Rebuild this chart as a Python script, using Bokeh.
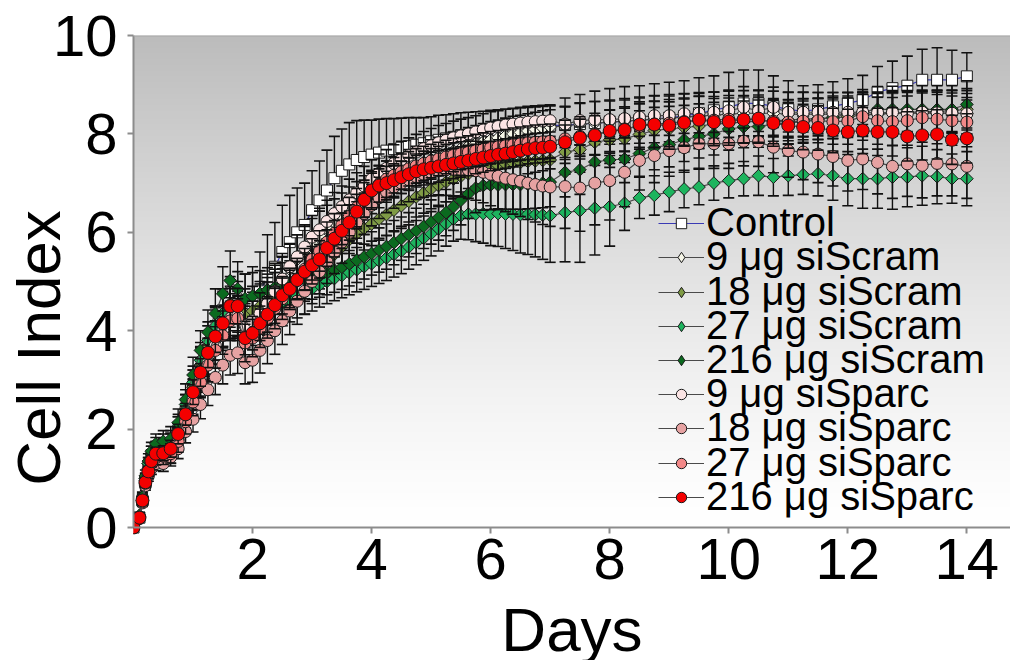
import numpy as np
from bokeh.plotting import figure
from bokeh.models import ColumnDataSource, Range1d, FixedTicker, Legend, LegendItem, Span
from bokeh.embed import file_html
from bokeh.resources import INLINE

# ---------------- data ----------------
days = [0, 0.1, 0.15, 0.2, 0.25, 0.3, 0.375,
        0.5, 0.625, 0.75, 0.875, 1.0, 1.125, 1.25, 1.375, 1.5, 1.625, 1.75, 1.875,
        2.0, 2.125, 2.25, 2.375, 2.5, 2.625, 2.75, 2.875,
        3.0, 3.125, 3.25, 3.375, 3.5, 3.625, 3.75, 3.875,
        4.0, 4.125, 4.25, 4.375, 4.5, 4.625, 4.75, 4.875,
        5.0, 5.125, 5.25, 5.375, 5.5, 5.625, 5.75, 5.875,
        6.0, 6.125, 6.25, 6.375, 6.5, 6.625, 6.75, 6.875, 7.0,
        7.25, 7.5, 7.75, 8.0, 8.25, 8.5, 8.75, 9.0, 9.25, 9.5, 9.75, 10.0,
        10.25, 10.5, 10.75, 11.0, 11.25, 11.5, 11.75, 12.0, 12.25, 12.5, 12.75, 13.0, 13.25, 13.5, 13.75, 14.0]

control = [0, 0.2, 0.55, 0.95, 1.2, 1.4, 1.55,
           1.55, 1.65, 1.95, 2.35, 2.8, 3.2, 3.6, 3.95, 4.25, 4.45, 4.5, 4.45,
           4.55, 4.8, 5.1, 5.3, 5.6, 5.8, 6.0, 6.15,
           6.45, 6.65, 6.85, 7.1, 7.25, 7.38, 7.47, 7.53,
           7.58, 7.62, 7.66, 7.69, 7.72, 7.75, 7.78, 7.81,
           7.85, 7.88, 7.91, 7.94, 7.97, 7.99, 8.01, 8.03,
           8.06, 8.08, 8.1, 8.11, 8.13, 8.14, 8.15, 8.16, 8.17,
           8.18, 8.2, 8.22, 8.24, 8.26, 8.28, 8.3, 8.33, 8.36, 8.42, 8.48, 8.55,
           8.62, 8.62, 8.56, 8.5, 8.46, 8.5, 8.56, 8.62, 8.69, 8.85, 8.93, 8.98, 9.1, 9.1, 9.1, 9.17]
control_err = [0, 0.05, 0.1, 0.12, 0.15, 0.18, 0.2,
               0.25, 0.25, 0.3, 0.35, 0.4, 0.45, 0.5, 0.55, 0.6, 0.65, 0.7, 0.7,
               0.75, 0.8, 0.85, 0.9, 0.95, 0.95, 0.9, 0.85,
               0.8, 0.8, 0.82, 0.85, 0.85, 0.85, 0.8, 0.75,
               0.7, 0.68, 0.65, 0.62, 0.6, 0.58, 0.55, 0.52,
               0.5, 0.5, 0.48, 0.47, 0.46, 0.45, 0.44, 0.43,
               0.42, 0.41, 0.4, 0.4, 0.4, 0.4, 0.4, 0.4, 0.4,
               0.55, 0.6, 0.65, 0.68, 0.7, 0.7, 0.72, 0.72, 0.72, 0.72, 0.7, 0.7,
               0.68, 0.68, 0.62, 0.58, 0.52, 0.5, 0.5, 0.5, 0.5, 0.52, 0.55, 0.6, 0.62, 0.65, 0.6, 0.48]

scram9 = [0, 0.2, 0.55, 0.95, 1.2, 1.4, 1.55,
          1.5, 1.6, 1.9, 2.3, 2.7, 3.1, 3.45, 3.8, 4.1, 4.3, 4.35, 4.2,
          4.3, 4.45, 4.65, 4.85, 5.05, 5.25, 5.45, 5.62,
          5.78, 5.93, 6.07, 6.2, 6.33, 6.46, 6.58, 6.7,
          6.82, 6.93, 7.03, 7.12, 7.2, 7.28, 7.35, 7.42,
          7.48, 7.54, 7.6, 7.65, 7.7, 7.75, 7.8, 7.84,
          7.88, 7.92, 7.96, 8.0, 8.03, 8.06, 8.09, 8.12, 8.14,
          8.16, 8.2, 8.22, 8.24, 8.26, 8.28, 8.3, 8.32, 8.34, 8.36, 8.38, 8.4,
          8.42, 8.42, 8.42, 8.4, 8.4, 8.4, 8.4, 8.4, 8.4, 8.4, 8.42, 8.42, 8.42, 8.42, 8.42, 8.42]
scram9_err = [0, 0.04, 0.08, 0.1, 0.12, 0.14, 0.15,
              0.18, 0.2, 0.24, 0.28, 0.32, 0.35, 0.38, 0.4, 0.42, 0.45, 0.45, 0.45,
              0.48, 0.5, 0.5, 0.52, 0.52, 0.52, 0.5, 0.5,
              0.5, 0.5, 0.48, 0.48, 0.47, 0.46, 0.45, 0.45,
              0.44, 0.43, 0.42, 0.42, 0.41, 0.4, 0.4, 0.4,
              0.4, 0.39, 0.39, 0.38, 0.38, 0.38, 0.37, 0.37,
              0.37, 0.36, 0.36, 0.36, 0.35, 0.35, 0.35, 0.35, 0.35,
              0.4, 0.42, 0.44, 0.45, 0.46, 0.47, 0.48, 0.48, 0.48, 0.48, 0.47, 0.47,
              0.46, 0.46, 0.45, 0.45, 0.45, 0.44, 0.44, 0.44, 0.45, 0.45, 0.46, 0.46, 0.47, 0.47, 0.46, 0.46]

scram18 = [0, 0.22, 0.6, 1.0, 1.3, 1.5, 1.65,
           1.6, 1.7, 2.0, 2.4, 2.85, 3.3, 3.7, 4.05, 4.35, 4.55, 4.5, 4.35,
           4.4, 4.5, 4.6, 4.7, 4.8, 4.9, 5.0, 5.1,
           5.2, 5.3, 5.42, 5.55, 5.7, 5.85, 5.97, 6.08,
           6.17, 6.27, 6.36, 6.45, 6.54, 6.63, 6.72, 6.8,
           6.88, 6.95, 7.02, 7.08, 7.14, 7.19, 7.24, 7.29,
           7.33, 7.36, 7.39, 7.41, 7.42, 7.44, 7.45, 7.46, 7.47,
           7.63, 7.68, 7.83, 7.88, 7.9, 7.99, 8.07, 8.1, 8.13, 8.16, 8.2, 8.22,
           8.24, 8.26, 8.27, 8.28, 8.3, 8.31, 8.32, 8.35, 8.38, 8.4, 8.42, 8.44, 8.45, 8.46, 8.47, 8.5]
scram18_err = [0, 0.05, 0.08, 0.1, 0.12, 0.15, 0.18,
               0.2, 0.22, 0.25, 0.3, 0.35, 0.38, 0.4, 0.42, 0.45, 0.48, 0.5, 0.5,
               0.5, 0.5, 0.48, 0.48, 0.46, 0.46, 0.45, 0.45,
               0.45, 0.45, 0.45, 0.45, 0.45, 0.44, 0.44, 0.44,
               0.44, 0.43, 0.43, 0.42, 0.42, 0.42, 0.41, 0.41,
               0.4, 0.4, 0.4, 0.4, 0.4, 0.4, 0.4, 0.4,
               0.4, 0.4, 0.4, 0.4, 0.4, 0.41, 0.42, 0.43, 0.44,
               0.45, 0.46, 0.47, 0.48, 0.48, 0.48, 0.47, 0.46, 0.45, 0.45, 0.44, 0.44,
               0.43, 0.43, 0.42, 0.42, 0.42, 0.42, 0.42, 0.42, 0.42, 0.42, 0.42, 0.42, 0.42, 0.42, 0.42, 0.42]

scram27 = [0, 0.22, 0.6, 1.0, 1.3, 1.5, 1.55,
           1.7, 1.75, 2.05, 2.5, 2.95, 3.4, 3.8, 4.1, 4.35, 4.45, 4.25, 4.1,
           4.15, 4.25, 4.35, 4.45, 4.55, 4.63, 4.71, 4.78,
           4.85, 4.93, 5.0, 5.06, 5.12, 5.18, 5.24, 5.3,
           5.36, 5.42, 5.48, 5.55, 5.62, 5.7, 5.79, 5.88,
           5.97, 6.07, 6.17, 6.27, 6.34, 6.37, 6.37, 6.38,
           6.37, 6.38, 6.37, 6.37, 6.36, 6.37, 6.36, 6.35, 6.34,
           6.4, 6.44, 6.49, 6.52, 6.59, 6.7, 6.75, 6.82, 6.88, 6.92, 7.0, 7.05,
           7.09, 7.15, 7.12, 7.15, 7.17, 7.19, 7.15, 7.09, 7.09, 7.09, 7.12, 7.12, 7.15, 7.13, 7.09, 7.09]
scram27_err = [0, 0.05, 0.08, 0.1, 0.12, 0.15, 0.18,
               0.2, 0.22, 0.25, 0.3, 0.33, 0.36, 0.38, 0.4, 0.42, 0.45, 0.45, 0.45,
               0.45, 0.45, 0.45, 0.45, 0.45, 0.45, 0.45, 0.45,
               0.45, 0.45, 0.45, 0.45, 0.45, 0.45, 0.45, 0.46,
               0.46, 0.46, 0.46, 0.46, 0.46, 0.45, 0.45, 0.45,
               0.45, 0.45, 0.45, 0.45, 0.48, 0.52, 0.56, 0.6,
               0.64, 0.67, 0.7, 0.74, 0.78, 0.82, 0.86, 0.9, 0.95,
               1.0, 1.05, 0.95, 0.8, 0.55, 0.42, 0.4, 0.4, 0.38, 0.36, 0.35, 0.35,
               0.35, 0.4, 0.38, 0.4, 0.4, 0.45, 0.5, 0.55, 0.6, 0.6, 0.65, 0.6, 0.6, 0.55, 0.5, 0.55]

scram216 = [0, 0.25, 0.62, 1.05, 1.35, 1.55, 1.7,
            1.75, 1.8, 2.13, 2.6, 3.1, 3.6, 3.97, 4.35, 4.75, 5.02, 4.85, 4.65,
            4.7, 4.76, 4.83, 4.88, 4.93, 4.97, 5.01, 5.05,
            5.09, 5.13, 5.18, 5.23, 5.29, 5.36, 5.43, 5.5,
            5.57, 5.64, 5.71, 5.79, 5.87, 5.95, 6.03, 6.12,
            6.21, 6.3, 6.4, 6.52, 6.65, 6.78, 6.9, 6.95,
            6.96, 6.96, 6.97, 6.97, 6.97, 6.98, 6.99, 7.0, 7.02,
            7.22, 7.27, 7.43, 7.47, 7.49, 7.6, 7.72, 7.78, 7.88, 7.95, 8.0, 8.1,
            8.14, 8.15, 8.2, 8.22, 8.25, 8.3, 8.34, 8.4, 8.45, 8.5, 8.5, 8.5, 8.5, 8.5, 8.5, 8.6]
scram216_err = [0, 0.06, 0.1, 0.12, 0.15, 0.18, 0.2,
                0.22, 0.25, 0.28, 0.32, 0.36, 0.4, 0.45, 0.5, 0.55, 0.6, 0.55, 0.5,
                0.48, 0.46, 0.45, 0.45, 0.45, 0.45, 0.45, 0.45,
                0.45, 0.45, 0.45, 0.45, 0.45, 0.45, 0.45, 0.45,
                0.44, 0.45, 0.46, 0.45, 0.44, 0.45, 0.46, 0.45,
                0.45, 0.46, 0.47, 0.48, 0.5, 0.5, 0.5, 0.5,
                0.5, 0.5, 0.5, 0.5, 0.5, 0.5, 0.5, 0.5, 0.5,
                0.5, 0.5, 0.5, 0.48, 0.48, 0.46, 0.45, 0.45, 0.44, 0.44, 0.43, 0.43,
                0.42, 0.42, 0.42, 0.42, 0.42, 0.42, 0.43, 0.44, 0.45, 0.46, 0.47, 0.48, 0.48, 0.48, 0.48, 0.48]

sparc9 = [0, 0.2, 0.55, 0.9, 1.12, 1.32, 1.45,
          1.45, 1.5, 1.8, 2.2, 2.6, 3.0, 3.35, 3.7, 4.0, 4.25, 4.3, 4.1,
          4.2, 4.35, 4.55, 4.8, 5.05, 5.3, 5.5, 5.7,
          5.9, 6.05, 6.22, 6.38, 6.52, 6.66, 6.8, 6.94,
          7.08, 7.2, 7.3, 7.4, 7.48, 7.56, 7.63, 7.7,
          7.76, 7.82, 7.87, 7.92, 7.96, 8.0, 8.04, 8.08,
          8.12, 8.15, 8.18, 8.2, 8.22, 8.24, 8.25, 8.26, 8.27,
          8.2, 8.27, 8.29, 8.29, 8.31, 8.34, 8.37, 8.37, 8.41, 8.42, 8.44, 8.47,
          8.54, 8.47, 8.54, 8.44, 8.44, 8.44, 8.44, 8.44, 8.44, 8.43, 8.44, 8.42, 8.44, 8.43, 8.42, 8.41]
sparc9_err = [0, 0.04, 0.07, 0.1, 0.12, 0.13, 0.15,
              0.17, 0.2, 0.23, 0.27, 0.3, 0.33, 0.36, 0.38, 0.4, 0.42, 0.42, 0.4,
              0.4, 0.42, 0.44, 0.45, 0.46, 0.46, 0.45, 0.45,
              0.44, 0.44, 0.43, 0.43, 0.42, 0.42, 0.41, 0.4,
              0.4, 0.39, 0.38, 0.38, 0.37, 0.36, 0.36, 0.35,
              0.35, 0.35, 0.34, 0.34, 0.34, 0.33, 0.33, 0.33,
              0.33, 0.32, 0.32, 0.32, 0.32, 0.32, 0.32, 0.32, 0.32,
              0.35, 0.36, 0.37, 0.38, 0.38, 0.39, 0.4, 0.4, 0.4, 0.4, 0.41, 0.42,
              0.42, 0.42, 0.41, 0.4, 0.4, 0.4, 0.4, 0.4, 0.41, 0.41, 0.42, 0.42, 0.42, 0.42, 0.41, 0.41]

sparc18 = [0, 0.18, 0.5, 0.85, 1.05, 1.2, 1.3,
           1.3, 1.43, 1.6, 1.95, 2.2, 2.5, 2.8, 3.05, 3.3, 3.5, 3.55, 3.35,
           3.4, 3.6, 3.8, 4.0, 4.2, 4.4, 4.6, 4.8,
           5.0, 5.2, 5.4, 5.6, 5.8, 6.0, 6.2, 6.38,
           6.55, 6.7, 6.82, 6.92, 7.0, 7.07, 7.13, 7.18,
           7.22, 7.25, 7.27, 7.28, 7.28, 7.27, 7.25, 7.22,
           7.18, 7.14, 7.1, 7.07, 7.04, 7.0, 6.97, 6.94, 6.92,
           6.93, 6.9, 7.0, 7.05, 7.22, 7.46, 7.56, 7.66, 7.72, 7.8, 7.8, 7.8,
           7.85, 7.84, 7.73, 7.66, 7.63, 7.59, 7.54, 7.46, 7.49, 7.42, 7.34, 7.39, 7.36, 7.4, 7.39, 7.34]
sparc18_err = [0, 0.04, 0.07, 0.09, 0.11, 0.12, 0.14,
               0.16, 0.18, 0.2, 0.23, 0.26, 0.29, 0.32, 0.35, 0.38, 0.4, 0.42, 0.43,
               0.45, 0.46, 0.47, 0.48, 0.48, 0.48, 0.47, 0.46,
               0.45, 0.45, 0.44, 0.44, 0.43, 0.43, 0.42, 0.42,
               0.42, 0.42, 0.42, 0.43, 0.44, 0.45, 0.46, 0.47,
               0.48, 0.5, 0.52, 0.54, 0.56, 0.58, 0.6, 0.62,
               0.64, 0.66, 0.68, 0.7, 0.72, 0.74, 0.76, 0.78, 0.8,
               0.85, 0.88, 0.85, 0.8, 0.7, 0.6, 0.55, 0.52, 0.5, 0.5, 0.5, 0.5,
               0.5, 0.5, 0.52, 0.54, 0.56, 0.58, 0.6, 0.62, 0.62, 0.64, 0.65, 0.66, 0.66, 0.66, 0.65, 0.65]

sparc27 = [0, 0.2, 0.52, 0.9, 1.1, 1.3, 1.42,
           1.45, 1.5, 1.75, 2.15, 2.55, 2.95, 3.3, 3.6, 3.9, 4.2, 4.25, 3.75,
           3.85, 4.05, 4.25, 4.45, 4.65, 4.85, 5.05, 5.25,
           5.45, 5.62, 5.8, 5.98, 6.15, 6.32, 6.5, 6.68,
           6.85, 6.98, 7.08, 7.16, 7.23, 7.29, 7.35, 7.4,
           7.45, 7.49, 7.53, 7.57, 7.6, 7.63, 7.66, 7.69,
           7.72, 7.74, 7.76, 7.78, 7.8, 7.82, 7.83, 7.84, 7.85,
           7.9, 7.95, 8.0, 8.05, 8.1, 8.15, 8.2, 8.22, 8.25, 8.28, 8.28, 8.3,
           8.3, 8.28, 8.26, 8.24, 8.26, 8.27, 8.25, 8.26, 8.35, 8.27, 8.25, 8.27, 8.33, 8.3, 8.27, 8.24]
sparc27_err = [0, 0.04, 0.07, 0.09, 0.11, 0.13, 0.15,
               0.17, 0.19, 0.22, 0.25, 0.28, 0.31, 0.34, 0.36, 0.38, 0.4, 0.4, 0.38,
               0.38, 0.39, 0.4, 0.41, 0.42, 0.42, 0.42, 0.42,
               0.42, 0.41, 0.41, 0.4, 0.4, 0.39, 0.39, 0.38,
               0.38, 0.37, 0.37, 0.36, 0.36, 0.35, 0.35, 0.35,
               0.34, 0.34, 0.34, 0.34, 0.33, 0.33, 0.33, 0.33,
               0.33, 0.33, 0.33, 0.34, 0.34, 0.34, 0.35, 0.35, 0.35,
               0.38, 0.4, 0.42, 0.44, 0.45, 0.46, 0.47, 0.48, 0.48, 0.48, 0.48, 0.48,
               0.48, 0.47, 0.46, 0.45, 0.45, 0.45, 0.46, 0.47, 0.48, 0.48, 0.49, 0.5, 0.5, 0.5, 0.5, 0.5]

sparc216 = [0, 0.2, 0.55, 0.92, 1.14, 1.35, 1.5,
            1.51, 1.6, 1.9, 2.3, 2.75, 3.15, 3.55, 3.88, 4.15, 4.5, 4.5, 3.85,
            3.95, 4.15, 4.33, 4.52, 4.72, 4.85, 5.03, 5.2,
            5.33, 5.45, 5.68, 5.87, 6.03, 6.2, 6.42, 6.66,
            6.85, 6.95, 7.0, 7.06, 7.12, 7.18, 7.24, 7.28,
            7.31, 7.34, 7.37, 7.4, 7.43, 7.46, 7.49, 7.52,
            7.55, 7.58, 7.6, 7.63, 7.66, 7.69, 7.71, 7.72, 7.74,
            7.83, 7.92, 7.97, 8.06, 8.08, 8.19, 8.19, 8.17, 8.23, 8.29, 8.24, 8.25,
            8.29, 8.31, 8.22, 8.17, 8.14, 8.12, 8.07, 8.04, 8.07, 8.04, 8.04, 7.95, 7.97, 7.99, 7.88, 7.91]
sparc216_err = [0, 0.03, 0.06, 0.08, 0.1, 0.12, 0.13,
                0.15, 0.17, 0.2, 0.22, 0.25, 0.28, 0.3, 0.32, 0.34, 0.36, 0.36, 0.34,
                0.34, 0.35, 0.36, 0.37, 0.38, 0.38, 0.38, 0.38,
                0.38, 0.38, 0.37, 0.37, 0.36, 0.36, 0.35, 0.35,
                0.35, 0.34, 0.34, 0.33, 0.33, 0.33, 0.32, 0.32,
                0.32, 0.32, 0.31, 0.31, 0.31, 0.31, 0.3, 0.3,
                0.3, 0.3, 0.3, 0.3, 0.3, 0.3, 0.3, 0.3, 0.3,
                0.35, 0.38, 0.4, 0.42, 0.44, 0.46, 0.47, 0.48, 0.48, 0.48, 0.48, 0.48,
                0.48, 0.48, 0.47, 0.46, 0.46, 0.45, 0.45, 0.46, 0.47, 0.48, 0.49, 0.5, 0.5, 0.5, 0.5, 0.5]

x_ticks = [2, 4, 6, 8, 10, 12, 14]
y_ticks = [0, 2, 4, 6, 8, 10]

# ---------------- styles ----------------
FONT = "Liberation Sans"
# name, values, errors, plot marker, angle, size, legend marker, fill, line colour
styles = [
    ("Control", control, control_err, "square", 0.0, 11, "square", "#ffffff", "#3a3ab4"),
    ("9 \u03bcg siScram", scram9, scram9_err, "square", np.pi / 4, 9, "diamond", "#f6f6e8", "#4a4a4a"),
    ("18 \u03bcg siScram", scram18, scram18_err, "square", np.pi / 4, 9, "diamond", "#7f9b45", "#4a4a4a"),
    ("27 \u03bcg siScram", scram27, scram27_err, "square", np.pi / 4, 9, "diamond", "#1db45e", "#4a4a4a"),
    ("216 \u03bcg siScram", scram216, scram216_err, "square", np.pi / 4, 9, "diamond", "#0b6a1f", "#4a4a4a"),
    ("9 \u03bcg siSparc", sparc9, sparc9_err, "circle", 0.0, 12, "circle", "#fbe4e4", "#4a4a4a"),
    ("18 \u03bcg siSparc", sparc18, sparc18_err, "circle", 0.0, 12, "circle", "#e6a2a2", "#4a4a4a"),
    ("27 \u03bcg siSparc", sparc27, sparc27_err, "circle", 0.0, 12, "circle", "#f28888", "#4a4a4a"),
    ("216 \u03bcg siSparc", sparc216, sparc216_err, "circle", 0.0, 13, "circle", "#f40000", "#4a4a4a"),
]

# layout: frame runs from the top line down to the canvas bottom; the x axis
# sits at y = 0 inside it so the axis texts cannot squeeze the data area
W, Hgt = 1010, 660
LEFT, TOP, ZERO_Y = 126, 35, 527
PX_PER_UNIT = (ZERO_Y - TOP) / 10.0
X_END = (W - LEFT) / 60.0
Y_START = -(Hgt - ZERO_Y) / PX_PER_UNIT
p = figure(width=W, height=Hgt, output_backend="svg", toolbar_location=None,
           x_range=Range1d(0, X_END), y_range=Range1d(Y_START, 10),
           min_border_left=LEFT, min_border_right=0, min_border_top=TOP,
           min_border_bottom=0)
p.xgrid.visible = False
p.ygrid.visible = False
p.outline_line_color = None
p.background_fill_color = "white"
p.border_fill_color = "white"

# vertical gray-to-white gradient behind the data (y 0..10 only)
NG = 256
shade = (255 - 67 * np.linspace(0, 1, NG) ** 1.3).astype(np.uint8)
img = np.empty((NG, 1), dtype=np.uint32)
view = img.view(dtype=np.uint8).reshape((NG, 1, 4))
view[:, 0, 0] = shade
view[:, 0, 1] = shade
view[:, 0, 2] = shade
view[:, 0, 3] = 255
p.image_rgba(image=[img], x=0, y=0, dw=X_END, dh=10)

p.add_layout(Span(location=10, dimension="width", line_color="#a6a6a6", line_width=2))

legend_rows = []
for name, vals, errs, marker, ang, size, lmarker, fill, lcol in styles:
    lo = [v - e for v, e in zip(vals, errs)]
    hi = [v + e for v, e in zip(vals, errs)]
    src = ColumnDataSource(dict(x=days, y=vals, lo=lo, hi=hi))
    p.segment(x0="x", y0="lo", x1="x", y1="hi", source=src, line_color="#111111", line_width=1.4)
    p.scatter(x="x", y="lo", marker="dash", size=11, line_color="#111111", line_width=1.6, source=src)
    p.scatter(x="x", y="hi", marker="dash", size=11, line_color="#111111", line_width=1.6, source=src)
    lr = p.line(x="x", y="y", source=src, line_color=lcol, line_width=1.2)
    p.scatter(x="x", y="y", marker=marker, angle=ang, size=size, fill_color=fill,
              line_color="#1a1a1a", line_width=1, source=src)
    # key-only marker renderer: zero size in the plot; the legend sizes its own symbol
    key = p.scatter(x="x", y="y", marker=lmarker, size=0, fill_color=fill,
                    line_color="#1a1a1a", line_width=1, source=src)
    legend_rows.append(LegendItem(label=name, renderers=[lr, key]))

# one single-row legend per entry so the rows can sit closer than the text height
ROW0, PITCH, HALF = 223, 34.25, 22
for i, item in enumerate(legend_rows):
    centre = ROW0 + PITCH * i
    leg = Legend(items=[item], location=(651 - LEFT, int(round(Hgt - centre - HALF))),
                 orientation="vertical",
                 label_text_font=FONT, label_text_font_size="40px", label_text_color="black",
                 glyph_width=46, glyph_height=26, label_height=26, spacing=0,
                 padding=0, margin=0, label_standoff=2,
                 border_line_color=None, background_fill_alpha=0)
    p.add_layout(leg)

for ax in (p.xaxis[0], p.yaxis[0]):
    ax.axis_line_color = "#8c8c8c"
    ax.axis_line_width = 2
    ax.major_tick_line_color = "#8c8c8c"
    ax.major_tick_line_width = 2
    ax.major_tick_in = 0
    ax.major_tick_out = 6
    ax.minor_tick_line_color = None
    ax.major_label_text_font = FONT
    ax.major_label_text_font_size = "58px"
    ax.major_label_text_color = "black"
    ax.axis_label_text_font = FONT
    ax.axis_label_text_font_size = "62px"
    ax.axis_label_text_font_style = "normal"
    ax.axis_label_text_color = "black"

p.xaxis[0].fixed_location = 0
p.xaxis[0].ticker = FixedTicker(ticks=x_ticks)
p.yaxis[0].ticker = FixedTicker(ticks=y_ticks)
p.yaxis[0].bounds = (0, 10)
p.xaxis[0].major_label_standoff = 5
p.yaxis[0].major_label_standoff = 10
p.xaxis[0].axis_label = "Days"
p.xaxis[0].axis_label_standoff = 13
p.yaxis[0].axis_label = "Cell Index"
p.yaxis[0].axis_label_standoff = -23

open("out.html", "w").write(file_html(p, INLINE))
